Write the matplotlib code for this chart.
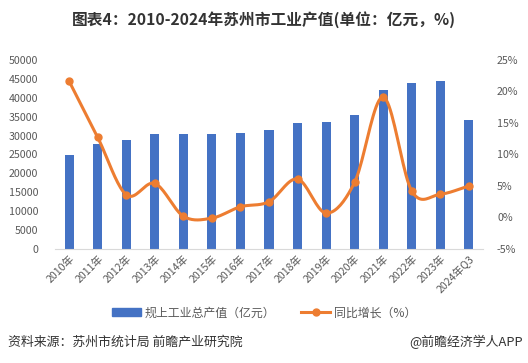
import numpy as np
import matplotlib
matplotlib.use("Agg")
import matplotlib.pyplot as plt
from matplotlib.lines import Line2D
from matplotlib.patches import Patch

plt.rcParams['font.family'] = ['Noto Sans CJK SC', 'DejaVu Sans']

years = ["2010年", "2011年", "2012年", "2013年", "2014年", "2015年", "2016年", "2017年",
         "2018年", "2019年", "2020年", "2021年", "2022年", "2023年", "2024年Q3"]
output_value = [24850, 27800, 28850, 30400, 30400, 30400, 30750, 31450,
                33400, 33550, 35450, 42050, 43900, 44450, 34100]
growth = [21.6, 12.7, 3.6, 5.4, 0.2, -0.1, 1.7, 2.5, 6.1, 0.7, 5.6, 19.1, 4.2, 3.7, 5.0]

left_ticks = [0, 5000, 10000, 15000, 20000, 25000, 30000, 35000, 40000, 45000, 50000]
right_ticks = [-5, 0, 5, 10, 15, 20, 25]

BAR = "#4472C4"
LINE = "#ED7D31"
GRAY = "#595959"


def catmull_rom(x, y, n=20):
    x = np.asarray(x, float)
    y = np.asarray(y, float)
    px = np.concatenate([[2 * x[0] - x[1]], x, [2 * x[-1] - x[-2]]])
    py = np.concatenate([[2 * y[0] - y[1]], y, [2 * y[-1] - y[-2]]])
    xs, ys = [], []
    for i in range(1, len(px) - 2):
        t = np.linspace(0, 1, n, endpoint=False)
        for arr, out in ((px, xs), (py, ys)):
            p0, p1, p2, p3 = arr[i - 1], arr[i], arr[i + 1], arr[i + 2]
            out.extend(0.5 * ((2 * p1) + (-p0 + p2) * t +
                              (2 * p0 - 5 * p1 + 4 * p2 - p3) * t ** 2 +
                              (-p0 + 3 * p1 - 3 * p2 + p3) * t ** 3))
    xs.append(x[-1])
    ys.append(y[-1])
    return np.array(xs), np.array(ys)


fig = plt.figure(figsize=(5.28, 3.63), dpi=100)
ax = fig.add_axes([0.104, 0.314, 0.811, 0.521])
x = np.arange(len(years))
ax.bar(x, output_value, width=0.32, color=BAR, zorder=2)
ax.set_ylim(0, 50000)
ax.set_yticks(left_ticks)
ax.set_xlim(-0.5, len(years) - 0.5)
ax.set_xticks(x)
ax.set_xticklabels(years, rotation=45, ha='right', rotation_mode='anchor', fontsize=7.6, color=GRAY)
ax.tick_params(axis='y', labelsize=7.7, colors=GRAY, length=0, pad=12)
ax.tick_params(axis='x', length=0, pad=3)
for s in ['top', 'right', 'left']:
    ax.spines[s].set_visible(False)
ax.spines['bottom'].set_color('#D9D9D9')

ax2 = ax.twinx()
sx, sy = catmull_rom(x, growth)
ax2.plot(sx, sy, color=LINE, lw=2.2, zorder=3)
ax2.plot(x, growth, 'o', color=LINE, ms=5, zorder=4)
ax2.set_ylim(-5, 25)
ax2.set_yticks(right_ticks)
ax2.set_yticklabels([f"{v}%" for v in right_ticks])
ax2.tick_params(axis='y', labelsize=7.7, colors=GRAY, length=0, pad=10)
for s in ['top', 'right', 'left', 'bottom']:
    ax2.spines[s].set_visible(False)

fig.text(0.5, 0.945, "图表4：2010-2024年苏州市工业产值(单位：亿元，%)", ha='center', va='center',
         fontsize=11.3, fontweight='bold', color='#333333')

handles = [Patch(color=BAR), Line2D([0], [0], color=LINE, lw=2.2, marker='o', ms=5)]
fig.legend(handles, ["规上工业总产值（亿元）", "同比增长（%）"], loc='center', bbox_to_anchor=(0.5, 0.138),
           ncol=2, frameon=False, fontsize=8.6, labelcolor=GRAY, handlelength=2.4, columnspacing=2.2,
           handletextpad=0.3)

fig.text(0.015, 0.058, "资料来源：苏州市统计局 前瞻产业研究院", ha='left', va='center', fontsize=9.3, color='#333333')
fig.text(0.99, 0.058, "@前瞻经济学人APP", ha='right', va='center', fontsize=9.3, color='#333333')

fig.savefig("out.png", dpi=100)
